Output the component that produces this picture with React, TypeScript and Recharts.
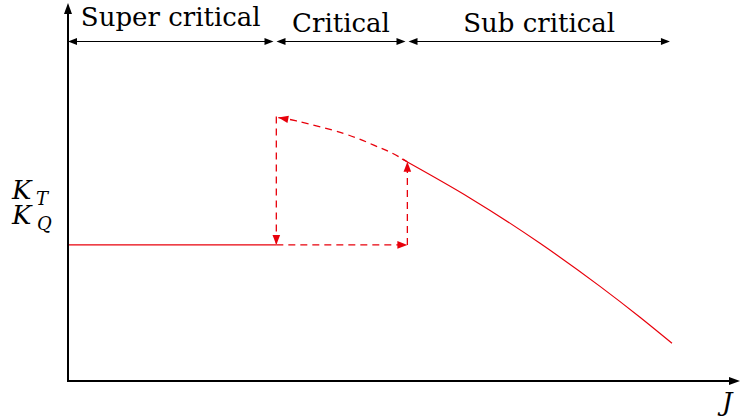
import { ComposedChart, Line, XAxis, YAxis, ReferenceLine } from 'recharts';

type Pt = { J: number; K: number };

// regime boundaries along J and their names
const regimeEdges = [0, 0.308, 0.5045, 0.898];
const regimeNames = ['Super critical', 'Critical', 'Sub critical'];
const regimeLevel = 0.898;

// plateau and jump values of the hysteresis loop
const plateauK = 0.36;
const breakJ = 0.31;
const recoverJ = 0.505;
const recoverK = 0.58;
const peakK = 0.7;

const flatSolid: Pt[] = [
    { J: 0, K: plateauK },
    { J: breakJ, K: plateauK },
];
const flatDashed: Pt[] = [
    { J: breakJ, K: plateauK },
    { J: recoverJ, K: plateauK },
];
const riseDashed: Pt[] = [
    { J: recoverJ, K: plateauK },
    { J: recoverJ, K: recoverK },
];
const dropDashed: Pt[] = [
    { J: breakJ, K: peakK },
    { J: breakJ, K: plateauK },
];
// unstable branch, followed back towards low J
const returnCurve: Pt[] = [
    { J: 0.313, K: 0.697 },
    { J: 0.34, K: 0.688 },
    { J: 0.41, K: 0.655 },
    { J: 0.455, K: 0.624 },
    { J: 0.48, K: 0.605 },
    { J: recoverJ, K: recoverK },
];
const subCriticalCurve: Pt[] = [
    { J: 0.497, K: 0.5873 },
    { J: 0.598, K: 0.4844 },
    { J: 0.7024, K: 0.3643 },
    { J: 0.7917, K: 0.2503 },
    { J: 0.8512, K: 0.1685 },
    { J: 0.8988, K: 0.0997 },
];

const RED = '#e8000b';
const SERIF = "'DejaVu Serif', serif";

const arrowHead = (x: number, y: number, ang: number, len: number, half: number, fill: string) => {
    const c = Math.cos(ang);
    const s = Math.sin(ang);
    const bx = x - len * c;
    const by = y - len * s;
    return (
        <polygon
            points={`${x},${y} ${bx - half * s},${by + half * c} ${bx + half * s},${by - half * c}`}
            fill={fill}
        />
    );
};

// draws an arrow head on one point of a Line, pointing away from a neighbour
const tipDot = (tip: number, from: number) => (p: any) => {
    const key = `tip-${p.index}`;
    if (p.index !== tip || !p.points) return <g key={key} />;
    const a = p.points[tip];
    const b = p.points[from];
    const ang = Math.atan2(a.y - b.y, a.x - b.x);
    return <g key={key}>{arrowHead(a.x, a.y, ang, 10, 3.8, RED)}</g>;
};

const XAxisArrow = (p: any) => (
    <g>
        <line x1={p.x1} y1={p.y1} x2={p.x2 - 4} y2={p.y2} stroke="#000" strokeWidth={2} strokeLinecap="square" />
        {arrowHead(p.x2, p.y2, 0, 11, 4, '#000')}
        <text x={p.x2 - 18} y={p.y2 + 30} fontFamily={SERIF} fontStyle="italic" fontSize={26}>
            J
        </text>
    </g>
);

const YAxisArrow = (p: any) => {
    const base = p.y1 + (p.y2 - p.y1) * 0.482;
    return (
        <g fontFamily={SERIF} fontStyle="italic">
            <line x1={p.x1} y1={p.y1} x2={p.x2} y2={p.y2 + 4} stroke="#000" strokeWidth={2} strokeLinecap="square" />
            {arrowHead(p.x2, p.y2, -Math.PI / 2, 11, 4, '#000')}
            {/* K_T over K_Q as one block */}
            <text fontSize={26}>
                <tspan x={p.x1 - 56} y={base}>K</tspan>
                <tspan x={p.x1 - 32} y={base + 6} fontSize={18}>T</tspan>
                <tspan x={p.x1 - 56} y={base + 25}>K</tspan>
                <tspan x={p.x1 - 31} y={base + 31} fontSize={18}>Q</tspan>
            </text>
        </g>
    );
};

const RegimeArrow = (name: string, idx: number) => (p: any) => {
    const x1 = p.x1 + (idx === 0 ? 0 : 1.5);
    const x2 = p.x2 - 1.5;
    const rise = idx === 0 ? 16 : 10;
    return (
        <g>
            <line x1={x1 + 4} y1={p.y1} x2={x2 - 4} y2={p.y2} stroke="#000" strokeWidth={1.1} />
            {arrowHead(x1, p.y1, Math.PI, 9, 3.5, '#000')}
            {arrowHead(x2, p.y2, 0, 9, 3.5, '#000')}
            <text x={(x1 + x2) / 2} y={p.y1 - rise} textAnchor="middle" fontFamily={SERIF} fontSize={26}>
                {name}
            </text>
        </g>
    );
};

const dashed = { stroke: RED, strokeWidth: 1.3, strokeDasharray: '7 5' };

const App = () => {
    return (
        <div style={{ position: 'absolute', left: 0, top: 0, width: 741, height: 418, background: '#fff' }}>
            <ComposedChart width={741} height={418} margin={{ top: 3, right: 1, left: 68, bottom: 37 }}>
                <XAxis type="number" dataKey="J" domain={[0, 1]} hide allowDataOverflow />
                <YAxis type="number" dataKey="K" domain={[0, 1]} hide allowDataOverflow />

                <Line data={flatSolid} dataKey="K" type="linear" stroke={RED} strokeWidth={1.2}
                    dot={false} activeDot={false} isAnimationActive={false} />
                <Line data={flatDashed} dataKey="K" type="linear" {...dashed}
                    dot={tipDot(1, 0)} activeDot={false} isAnimationActive={false} />
                <Line data={riseDashed} dataKey="K" type="linear" {...dashed}
                    dot={tipDot(1, 0)} activeDot={false} isAnimationActive={false} />
                <Line data={returnCurve} dataKey="K" type="natural" {...dashed}
                    dot={tipDot(0, 1)} activeDot={false} isAnimationActive={false} />
                <Line data={dropDashed} dataKey="K" type="linear" {...dashed}
                    dot={tipDot(1, 0)} activeDot={false} isAnimationActive={false} />
                <Line data={subCriticalCurve} dataKey="K" type="natural" stroke={RED} strokeWidth={1.2}
                    dot={false} activeDot={false} isAnimationActive={false} />

                {regimeNames.map((name, i) => (
                    <ReferenceLine
                        key={name}
                        segment={[
                            { x: regimeEdges[i], y: regimeLevel },
                            { x: regimeEdges[i + 1], y: regimeLevel },
                        ]}
                        shape={RegimeArrow(name, i)}
                    />
                ))}
                <ReferenceLine segment={[{ x: 0, y: 0 }, { x: 1, y: 0 }]} shape={XAxisArrow} />
                <ReferenceLine segment={[{ x: 0, y: 0 }, { x: 0, y: 1 }]} shape={YAxisArrow} />
            </ComposedChart>
        </div>
    );
};

export default App;
